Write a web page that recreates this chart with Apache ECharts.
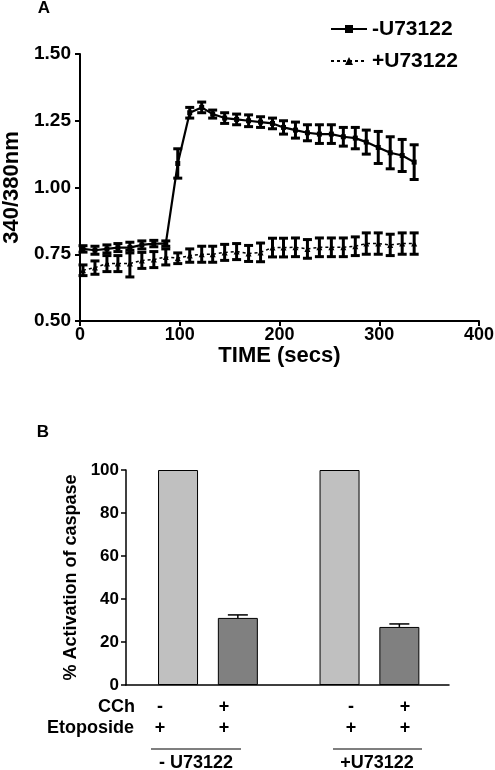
<!DOCTYPE html>
<html>
<head>
<meta charset="utf-8">
<script src="https://cdn.jsdelivr.net/npm/echarts@6/dist/echarts.min.js"></script>
<style>html,body{margin:0;padding:0;background:#fff;}#c{width:495px;height:770px;}</style>
</head>
<body>
<div id="c"></div>
<script>
// ---- Panel A data ----
const times = [3,15,27,38,50,62,74,86,98,110,122,133,145,157,169,181,193,204,216,228,240,252,264,276,287,299,311,323,335];
const minusU = [0.77,0.765,0.77,0.775,0.775,0.785,0.79,0.79,1.09,1.28,1.30,1.275,1.26,1.255,1.25,1.245,1.24,1.225,1.215,1.205,1.20,1.20,1.19,1.185,1.17,1.15,1.13,1.12,1.095];
const minusErr = [0.012,0.015,0.015,0.015,0.02,0.015,0.012,0.01,0.055,0.02,0.02,0.015,0.02,0.02,0.022,0.02,0.02,0.025,0.03,0.03,0.035,0.035,0.035,0.04,0.045,0.06,0.06,0.06,0.065];
const plusU = [0.69,0.70,0.715,0.715,0.715,0.727,0.73,0.74,0.735,0.745,0.75,0.75,0.757,0.76,0.753,0.757,0.775,0.775,0.776,0.77,0.776,0.776,0.776,0.78,0.79,0.79,0.785,0.79,0.79];
const plusErr = [0.02,0.025,0.03,0.03,0.05,0.03,0.03,0.03,0.02,0.025,0.03,0.03,0.03,0.03,0.03,0.035,0.035,0.035,0.035,0.035,0.035,0.035,0.035,0.035,0.04,0.04,0.04,0.04,0.04];
const seriesNames = ['-U73122', '+U73122'];
const yTicksA = [0.50, 0.75, 1.00, 1.25, 1.50];
const xTicksA = [0, 100, 200, 300, 400];

// ---- Panel B data ----
const groupPos = [1, 2, 3.7, 4.7];
const activation = [100, 31.2, 100, 27.0];
const activationErr = [0, 1.4, 0, 1.4];
const barColors = ['#c0c0c0', '#808080', '#c0c0c0', '#808080'];
const cchSigns = ['-', '+', '-', '+'];
const etoSigns = ['+', '+', '+', '+'];
const groupLabels = ['- U73122', '+U73122'];
const yTicksB = [0, 20, 40, 60, 80, 100];

const FONT = 'Liberation Sans, Arial, Helvetica, sans-serif';
const chart = echarts.init(document.getElementById('c'));

function errA(params, api) {
  const x = api.value(0), y = api.value(1), e = api.value(2);
  const hi = api.coord([x, y + e]), lo = api.coord([x, y - e]);
  const w = 4.5, st = {stroke: '#000', lineWidth: 3};
  return {type: 'group', children: [
    {type: 'line', shape: {x1: hi[0], y1: hi[1], x2: lo[0], y2: lo[1]}, style: st},
    {type: 'line', shape: {x1: hi[0] - w, y1: hi[1], x2: hi[0] + w, y2: hi[1]}, style: st},
    {type: 'line', shape: {x1: lo[0] - w, y1: lo[1], x2: lo[0] + w, y2: lo[1]}, style: st}
  ]};
}
function errB(params, api) {
  const x = api.value(0), y = api.value(1), e = api.value(2);
  if (!e) return null;
  const hi = api.coord([x, y + e]), lo = api.coord([x, y]);
  const w = 10, st = {stroke: '#000', lineWidth: 1.5};
  return {type: 'group', children: [
    {type: 'line', shape: {x1: hi[0], y1: hi[1], x2: lo[0], y2: lo[1]}, style: st},
    {type: 'line', shape: {x1: hi[0] - w, y1: hi[1], x2: hi[0] + w, y2: hi[1]}, style: st}
  ]};
}

const axisTxt = {color: '#000', fontFamily: FONT, fontWeight: 'bold'};

const option = {
  animation: false,
  backgroundColor: '#fff',
  textStyle: {fontFamily: FONT},
  legend: {
    orient: 'vertical', left: 325, top: 12,
    itemWidth: 36, itemHeight: 10, itemGap: 8,
    data: seriesNames,
    textStyle: {fontFamily: FONT, fontWeight: 'bold', fontSize: 21, color: '#000', lineHeight: 24}
  },
  grid: [
    {left: 80, right: 16, top: 54, bottom: 449, containLabel: false, outerBoundsMode: 'none'},
    {left: 126, right: 46, top: 470, bottom: 85, containLabel: false, outerBoundsMode: 'none'}
  ],
  xAxis: [
    {gridIndex: 0, type: 'value', min: xTicksA[0], max: xTicksA[xTicksA.length - 1], interval: 100,
     splitLine: {show: false},
     axisLine: {lineStyle: {color: '#000', width: 2}},
     axisTick: {length: 5, lineStyle: {color: '#000', width: 2}},
     axisLabel: Object.assign({fontSize: 18, margin: 5}, axisTxt),
     name: 'TIME (secs)', nameLocation: 'middle', nameGap: 21,
     nameTextStyle: Object.assign({fontSize: 22}, axisTxt)},
    {gridIndex: 1, type: 'value', min: 0.13, max: 5.53,
     splitLine: {show: false},
     axisLine: {lineStyle: {color: '#000', width: 1.5}},
     axisTick: {show: false}, axisLabel: {show: false}}
  ],
  yAxis: [
    {gridIndex: 0, type: 'value', min: yTicksA[0], max: yTicksA[yTicksA.length - 1], interval: 0.25,
     splitLine: {show: false},
     axisLine: {show: true, lineStyle: {color: '#000', width: 2}},
     axisTick: {show: true, length: 5, lineStyle: {color: '#000', width: 2}},
     axisLabel: Object.assign({fontSize: 19, margin: 9, formatter: v => v.toFixed(2)}, axisTxt),
     name: '340/380nm', nameLocation: 'middle', nameGap: 55,
     nameTextStyle: Object.assign({fontSize: 22}, axisTxt)},
    {gridIndex: 1, type: 'value', min: yTicksB[0], max: yTicksB[yTicksB.length - 1], interval: 20,
     splitLine: {show: false},
     axisLine: {show: true, lineStyle: {color: '#000', width: 1.5}},
     axisTick: {show: true, length: 5, lineStyle: {color: '#000', width: 1.5}},
     axisLabel: Object.assign({fontSize: 17, margin: 7}, axisTxt),
     name: '% Activation of caspase', nameLocation: 'middle', nameGap: 45,
     nameTextStyle: Object.assign({fontSize: 18}, axisTxt)}
  ],
  series: [
    {name: seriesNames[0], type: 'line', xAxisIndex: 0, yAxisIndex: 0,
     data: times.map((t, i) => [t, minusU[i]]),
     symbol: 'rect', symbolSize: 5, showAllSymbol: true,
     lineStyle: {color: '#000', width: 2.2}, itemStyle: {color: '#000'}, z: 3},
    {name: seriesNames[1], type: 'line', xAxisIndex: 0, yAxisIndex: 0,
     data: times.map((t, i) => [t, plusU[i]]),
     symbol: 'triangle', symbolSize: 6, showAllSymbol: true,
     lineStyle: {color: '#000', width: 1.5, type: [3, 3]}, itemStyle: {color: '#000'}, z: 3},
    {type: 'custom', xAxisIndex: 0, yAxisIndex: 0, renderItem: errA,
     data: times.map((t, i) => [t, minusU[i], minusErr[i]]), encode: {x: 0, y: 1}, z: 4, silent: true},
    {type: 'custom', xAxisIndex: 0, yAxisIndex: 0, renderItem: errA,
     data: times.map((t, i) => [t, plusU[i], plusErr[i]]), encode: {x: 0, y: 1}, z: 4, silent: true},
    {type: 'bar', xAxisIndex: 1, yAxisIndex: 1, barWidth: 40,
     data: groupPos.map((p, i) => ({value: [p, activation[i]], itemStyle: {color: barColors[i], borderColor: '#000', borderWidth: 1}}))},
    {type: 'custom', xAxisIndex: 1, yAxisIndex: 1, renderItem: errB,
     data: groupPos.map((p, i) => [p, activation[i], activationErr[i]]), encode: {x: 0, y: 1}, z: 5, silent: true}
  ]
};
chart.setOption(option);

// ---- Text annotations (panel letters, condition rows) ----
const txt = (text, x, y, size, align) => ({type: 'text', x: x, y: y,
  style: {text: text, fontFamily: FONT, fontWeight: 'bold', fontSize: size, fill: '#000', align: align || 'center', verticalAlign: 'middle'}});
const signX = [160, 224, 351, 405];
const g = [];
g.push(txt('A', 44, 8, 17));
g.push(txt('B', 43, 432, 17));
g.push(txt('CCh', 135, 707, 18, 'right'));
g.push(txt('Etoposide', 134, 728, 18, 'right'));
cchSigns.forEach((s, i) => g.push(txt(s, signX[i], 707, 18)));
etoSigns.forEach((s, i) => g.push(txt(s, signX[i], 728, 18)));
g.push({type: 'line', shape: {x1: 151, y1: 749, x2: 241, y2: 749}, style: {stroke: '#555', lineWidth: 1.5}});
g.push({type: 'line', shape: {x1: 333, y1: 749, x2: 422, y2: 749}, style: {stroke: '#555', lineWidth: 1.5}});
g.push(txt(groupLabels[0], 196, 763, 18));
g.push(txt(groupLabels[1], 377, 763, 18));
chart.setOption({graphic: g});
</script>
</body>
</html>
